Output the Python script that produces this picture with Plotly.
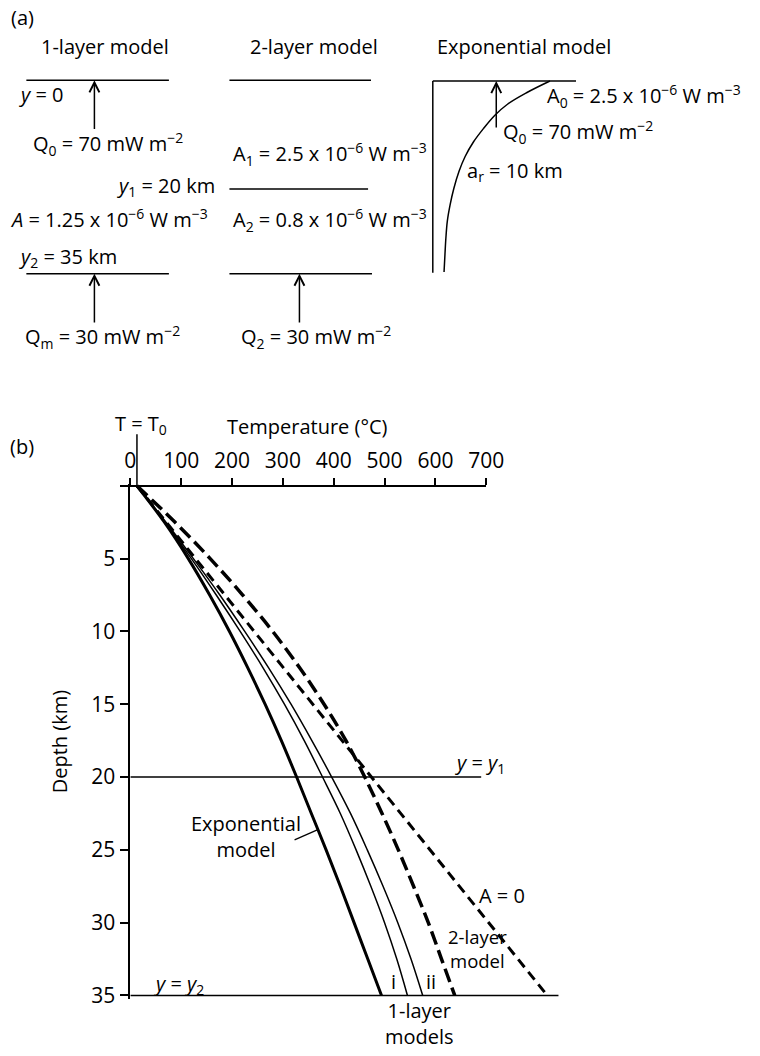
import plotly.graph_objects as go

# ---------------- data ----------------
DEPTH = [0, 2.5, 5, 7.5, 10, 12.5, 15, 17.5, 20, 22.5, 25, 27.5, 30, 32.5, 35]
T_EXP = [13, 67, 114, 156, 195, 231, 265, 297, 327, 356, 385, 413, 440, 467, 494]
T_1LAYER_I = [13, 68, 120, 169, 216, 261, 303, 342, 378, 413, 444, 473, 500, 524, 545]
T_1LAYER_II = [13, 70, 124, 176, 225, 272, 316, 357, 396, 433, 466, 497, 526, 552, 575]
T_2LAYER = [13, 88, 157, 221, 280, 333, 381, 424, 461, 495, 527, 557, 586, 612, 638]
DEPTH_A0 = [0, 35]
T_A0 = [13, 820]
T0 = 13
Y1 = 20
Y2 = 35

TEMP_TICKS = [0, 100, 200, 300, 400, 500, 600, 700]
DEPTH_TICKS = [5, 10, 15, 20, 25, 30, 35]

# exponential heat-production schematic (A in 1e-6 W m^-3 vs depth km)
EXP_DEPTH = [0, 2.1, 4.2, 6.3, 8.7, 11.1, 13.8, 16.5, 19.6, 22.6, 25.6, 28.6, 31.6, 34.9]
EXP_A = [2.5, 2.01, 1.60, 1.32, 1.08, 0.87, 0.69, 0.56, 0.45, 0.37, 0.31, 0.28, 0.26, 0.24]

# ---------------- layout helpers ----------------
W, H = 760, 1056
FONT = "Open Sans"
FS = 20


def px(x):
    return x / W


def py(y):
    return 1 - y / H


# temperature/depth pixel calibration of panel (b)
X_T0PX = 133.5      # pixel of T = 0
X_SCALE = 0.5208    # px per degC
Y_D0PX = 490.0      # pixel of depth 0
Y_SCALE = 14.686    # px per km

fig = go.Figure()

line_black = "black"

# panel (b) curves
fig.add_trace(go.Scatter(x=T_EXP, y=DEPTH, mode="lines", line=dict(color=line_black, width=3, shape="spline"),
                         hoverinfo="skip", showlegend=False))
fig.add_trace(go.Scatter(x=T_1LAYER_I, y=DEPTH, mode="lines", line=dict(color=line_black, width=1.5, shape="spline"),
                         hoverinfo="skip", showlegend=False))
fig.add_trace(go.Scatter(x=T_1LAYER_II, y=DEPTH, mode="lines", line=dict(color=line_black, width=1.5, shape="spline"),
                         hoverinfo="skip", showlegend=False))
fig.add_trace(go.Scatter(x=T_2LAYER, y=DEPTH, mode="lines",
                         line=dict(color=line_black, width=3.5, shape="spline", dash="14px,6px"),
                         hoverinfo="skip", showlegend=False))
fig.add_trace(go.Scatter(x=T_A0, y=DEPTH_A0, mode="lines",
                         line=dict(color=line_black, width=3, dash="10px,6px"),
                         hoverinfo="skip", showlegend=False))

# dummy trace to show the temperature axis (x2)
fig.add_trace(go.Scatter(x=[0], y=[0], xaxis="x2", yaxis="y", mode="markers",
                         marker=dict(opacity=0), hoverinfo="skip", showlegend=False))
# dummy trace for pixel overlay axes
fig.add_trace(go.Scatter(x=[0], y=[0], xaxis="x3", yaxis="y3", mode="markers",
                         marker=dict(opacity=0), hoverinfo="skip", showlegend=False))
# exponential schematic curve
fig.add_trace(go.Scatter(x=EXP_A, y=EXP_DEPTH, xaxis="x4", yaxis="y4", mode="lines",
                         line=dict(color=line_black, width=1.5, shape="spline"),
                         hoverinfo="skip", showlegend=False))

x_left, x_right = 133.5, 620
y_top, y_bot = 488, 1008
x2_left = 123
x2_right = X_T0PX + X_SCALE * TEMP_TICKS[-1]

ex_left, ex_right = 443.3, 600
ey_top, ey_bot = 78, 280
E_PX_PER_A = 48.0
E_D0 = 81.7
E_PX_PER_KM = 5.52

fig.update_layout(
    width=W, height=H,
    margin=dict(l=0, r=0, t=0, b=0),
    paper_bgcolor="white", plot_bgcolor="rgba(0,0,0,0)",
    font=dict(family=FONT, color="black", size=FS),
    showlegend=False,
    xaxis=dict(domain=[px(x_left), px(x_right)],
               range=[(x_left - X_T0PX) / X_SCALE, (x_right - X_T0PX) / X_SCALE],
               visible=False, fixedrange=True),
    yaxis=dict(domain=[py(y_bot), py(y_top)],
               range=[(y_bot - Y_D0PX) / Y_SCALE, (y_top - Y_D0PX) / Y_SCALE],
               autorange=False, tickvals=DEPTH_TICKS, ticks="outside", ticklen=9, tickwidth=1.5,
               tickcolor="black", showline=True, linewidth=1.5, linecolor="black",
               showgrid=False, zeroline=False, tickfont=dict(size=21),
               title=dict(text="Depth (km)", font=dict(size=20), standoff=18),
               anchor="x", fixedrange=True),
    xaxis2=dict(domain=[px(x2_left), px(x2_right)],
                range=[(x2_left - X_T0PX) / X_SCALE, TEMP_TICKS[-1]],
                anchor="free", position=py(Y_D0PX), side="top",
                tickvals=TEMP_TICKS, ticks="outside", ticklen=7, tickwidth=1.5, tickcolor="black",
                showline=True, linewidth=2, linecolor="black", showgrid=False, zeroline=False,
                tickfont=dict(size=21), ticklabelstandoff=1, fixedrange=True),
    xaxis3=dict(domain=[0, 1], range=[0, W], visible=False, anchor="y3", fixedrange=True),
    yaxis3=dict(domain=[0, 1], range=[H, 0], visible=False, anchor="x3", fixedrange=True),
    xaxis4=dict(domain=[px(ex_left), px(ex_right)],
                range=[0, (ex_right - ex_left) / E_PX_PER_A], visible=False, anchor="y4", fixedrange=True),
    yaxis4=dict(domain=[py(ey_bot), py(ey_top)],
                range=[(ey_bot - E_D0) / E_PX_PER_KM, (ey_top - E_D0) / E_PX_PER_KM],
                visible=False, anchor="x4", fixedrange=True),
)

shapes = []


def pline(x0, y0, x1, y1, w=1.5):
    shapes.append(dict(type="line", xref="x3", yref="y3", x0=x0, y0=y0, x1=x1, y1=y1,
                       line=dict(color="black", width=w)))


# panel (a) schematic lines
pline(27, 81, 173, 81)
pline(27, 276, 173, 276)
pline(235, 81, 380, 81)
pline(235, 190.7, 377, 190.7)
pline(235, 276, 381, 276)
pline(443.3, 81.7, 590, 81.7)
pline(443.3, 81.7, 443.3, 275)

# panel (b) reference lines
shapes.append(dict(type="line", xref="x", yref="paper", x0=T0, x1=T0, y0=py(438), y1=py(Y_D0PX),
                   line=dict(color="black", width=1.5)))
shapes.append(dict(type="line", xref="x", yref="y", x0=0, x1=690, y0=Y1, y1=Y1,
                   line=dict(color="black", width=1.5)))
shapes.append(dict(type="line", xref="x", yref="y", x0=0, x1=842, y0=Y2, y1=Y2,
                   line=dict(color="black", width=1.5)))
# leader for exponential model label
pline(301.7, 847, 325, 837, 1.3)

fig.update_layout(shapes=shapes)

ann = []


def label(x, y, text, size=FS, xanchor="center"):
    ann.append(dict(x=x, y=y, xref="x3", yref="y3", text=text, showarrow=False,
                    xanchor=xanchor, yanchor="middle", font=dict(size=size, family=FONT, color="black")))


def arrow(x, y_tail, y_head):
    ann.append(dict(x=x, y=y_head, ax=x, ay=y_tail, xref="x3", yref="y3", axref="x3", ayref="y3",
                    text="", showarrow=True, arrowhead=5, arrowsize=1.3, arrowwidth=1.5,
                    arrowcolor="black", standoff=0, startstandoff=0))


# panel (a) text
label(23, 18, "(a)")
label(108, 47, "1-layer model")
label(322, 47, "2-layer model")
label(537, 47, "Exponential model")
label(42, 95, "<i>y</i> = 0")
label(111, 145, "Q<sub>0</sub> = 70 mW m<sup>−2</sup>")
label(222, 188, "<i>y</i><sub>1</sub> = 20 km", FS, "right")
label(237, 155, "A<sub>1</sub> = 2.5 x 10<sup>−6</sup> W m<sup>−3</sup>", FS, "left")
label(112, 220, "<i>A</i> = 1.25 x 10<sup>−6</sup> W m<sup>−3</sup>")
label(237, 222, "A<sub>2</sub> = 0.8 x 10<sup>−6</sup> W m<sup>−3</sup>", FS, "left")
label(70, 260, "<i>y</i><sub>2</sub> = 35 km")
label(105, 340, "Q<sub>m</sub> = 30 mW m<sup>−2</sup>")
label(324, 340, "Q<sub>2</sub> = 30 mW m<sup>−2</sup>")
label(660, 97, "A<sub>0</sub> = 2.5 x 10<sup>−6</sup> W m<sup>−3</sup>")
label(592, 133, "Q<sub>0</sub> = 70 mW m<sup>−2</sup>")
label(527, 173, "a<sub>r</sub> = 10 km")

arrow(96.7, 131.7, 81)
arrow(508.3, 130, 81.7)
arrow(96.7, 326.7, 276)
arrow(306.7, 326.7, 276)

# panel (b) text
label(23, 450, "(b)")
label(144, 428, "T = T<sub>0</sub>")
label(315, 430, "Temperature (°C)")
label(252, 844, "Exponential<br>model")
label(492, 770, "<i>y</i> = <i>y</i><sub>1</sub>")
label(183, 993, "<i>y</i> = <i>y</i><sub>2</sub>")
label(402.7, 990, "i")
label(441.5, 990, "ii")
label(430, 1032, "1-layer<br>models")
label(514, 903, "A = 0")
label(489, 957, "2-layer<br>model", 18.5)

fig.update_layout(annotations=ann)

fig.write_html("out.html")
